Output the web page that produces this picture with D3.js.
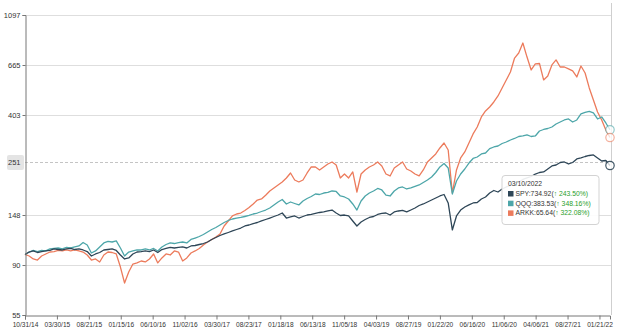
<!DOCTYPE html>
<html>
<head>
<meta charset="utf-8">
<script src="https://cdn.jsdelivr.net/npm/d3@7"></script>
<style>
  html, body { margin: 0; padding: 0; background: #fff; }
  svg { display: block; font-family: "Liberation Sans", Arial, Helvetica, sans-serif; }
</style>
</head>
<body>
<svg id="chart" width="630" height="331"></svg>
<script>
// Growth of 100 invested on 10/31/14, sampled every 13 trading sessions through 03/10/2022
const sessionStep = 13;

const spy = [100.0,102.5,103.6,102.0,103.0,103.6,104.1,105.7,105.1,104.6,
105.7,106.2,105.1,105.7,104.6,103.0,98.5,100.5,102.0,104.6,
105.1,105.7,104.1,99.5,95.6,96.6,100.5,102.5,103.0,103.6,
103.0,104.6,102.0,105.1,106.2,107.3,106.7,107.3,107.8,106.7,
108.9,109.4,110.5,111.6,113.3,116.2,118.5,120.9,122.8,124.6,
126.5,128.4,130.3,133.0,134.3,136.3,137.7,139.8,141.9,144.0,
146.2,148.4,151.4,144.0,145.5,147.0,144.0,146.2,148.4,149.2,
150.7,152.2,153.0,154.5,156.0,151.4,147.7,148.4,147.0,139.8,
133.0,138.4,141.9,144.8,146.2,149.2,150.7,151.4,148.4,153.0,
154.5,155.3,153.0,156.0,159.2,163.2,165.7,169.0,172.4,175.9,
179.5,182.2,167.4,127.8,147.0,156.0,160.8,164.1,167.4,168.2,
174.2,177.7,184.9,189.6,186.8,192.5,196.4,199.4,204.4,206.5,
211.7,214.9,218.1,223.6,227.0,228.2,235.1,242.3,244.7,250.9,
252.2,247.2,250.9,259.9,262.5,266.4,269.1,270.5,262.5,254.7,
256.0,243.50];

const qqq = [100.0,102.5,104.1,103.0,104.1,103.6,105.7,106.2,106.7,105.7,
107.3,106.7,107.8,108.9,112.7,110.0,101.5,103.6,107.8,112.2,
113.9,113.3,114.5,106.7,98.5,102.5,103.6,104.6,104.6,105.7,
104.6,106.2,103.6,107.8,110.5,112.2,111.6,112.7,113.3,112.2,
116.2,117.9,119.7,122.1,125.2,128.4,131.0,134.3,137.7,140.5,
142.6,144.0,144.8,146.2,147.7,149.9,151.4,153.7,156.0,159.2,
164.1,169.0,173.3,165.7,169.0,166.5,164.1,170.7,175.1,178.6,
183.1,182.2,184.9,185.9,188.7,187.8,179.5,177.7,174.2,165.7,
156.0,170.7,179.5,184.9,188.7,193.5,190.6,180.9,179.5,188.7,
194.5,196.4,192.5,194.5,197.4,200.4,205.4,210.6,217.1,227.0,
239.9,248.4,237.5,183.1,208.6,223.6,235.1,249.6,261.2,265.1,
273.2,275.9,288.2,293.0,295.9,303.4,308.0,314.2,319.0,325.4,
327.1,330.4,325.4,327.1,343.8,349.0,352.5,357.8,368.8,376.2,
383.8,387.7,376.2,383.8,407.6,413.8,417.9,411.7,387.7,395.5,
372.5,348.16];

const arkk = [100.0,98.5,95.6,94.6,98.5,100.5,102.5,103.0,104.1,103.6,
104.6,103.6,104.6,103.6,102.5,99.5,94.6,95.6,92.8,99.5,
102.5,102.0,100.5,88.2,75.2,83.9,90.9,91.9,93.7,92.8,
95.6,100.5,91.9,96.6,100.5,99.5,103.6,102.5,93.7,96.6,
101.5,103.6,106.2,110.0,113.3,116.2,119.1,122.8,133.0,139.8,
147.0,149.9,151.4,155.3,160.0,165.7,172.4,174.2,180.9,188.7,
194.5,200.4,206.5,214.9,225.9,210.6,206.5,210.6,225.9,239.9,
239.9,232.8,239.9,247.2,252.2,244.7,214.9,223.6,214.9,228.2,
186.8,223.6,232.8,239.9,244.7,252.2,242.3,223.6,219.3,237.5,
244.7,252.2,235.1,230.5,223.6,219.3,232.8,252.2,262.5,273.2,
290.1,305.0,284.3,184.9,232.8,262.5,278.7,305.0,333.9,357.8,
395.5,420.0,437.1,459.5,487.9,528.8,572.8,620.4,713.0,749.9,
828.8,720.1,632.9,672.1,675.3,572.8,596.2,665.4,699.7,652.0,
652.0,639.3,626.7,590.2,658.6,614.2,528.8,468.9,415.9,383.8,
346.9,322.08];

const seriesNames = ["SPY", "QQQ", "ARKK"];
const seriesColors = ["#2e4657", "#4da6a9", "#ec7b5c"];
const lastPrices = [734.92, 383.53, 65.64];
const hoverDate = "03/10/2022";
const crosshairValue = 251;

// axis ticks: y at e^4 ... e^7 (half steps), x every 100 sessions
const yTicks = [54.6, 90.0, 148.4, 403.4, 665.1, 1096.6];
const xTickSessions = d3.range(0, 1801, 100);
const xTickLabels = ["10/31/14","03/30/15","08/21/15","01/15/16","06/10/16","11/02/16",
  "03/30/17","08/23/17","01/18/18","06/13/18","11/05/18","04/03/19","08/27/19",
  "01/22/20","06/16/20","11/06/20","04/06/21","08/27/21","01/21/22"];

const allSeries = [spy, qqq, arkk];
const lastSession = (spy.length - 1) * sessionStep;

const svg = d3.select("#chart");
const plotLeft = 25, plotRight = 610, plotTop = 15, plotBottom = 315;

const x = d3.scaleLinear().domain([0, lastSession]).range([plotLeft, plotRight]);
const y = d3.scaleLog().domain([yTicks[0], yTicks[yTicks.length - 1]]).range([plotBottom, plotTop]);

// horizontal grid
svg.append("g").selectAll("line").data(yTicks.slice(1)).join("line")
  .attr("x1", plotLeft).attr("x2", plotRight + 1)
  .attr("y1", d => Math.round(y(d)) + 0.5).attr("y2", d => Math.round(y(d)) + 0.5)
  .attr("stroke", "#dedede").attr("stroke-width", 1);

// crosshair
const cy = Math.round(y(crosshairValue)) + 0.5;
svg.append("line").attr("x1", plotLeft).attr("x2", plotRight + 1).attr("y1", cy).attr("y2", cy)
  .attr("stroke", "#c4c4c4").attr("stroke-dasharray", "3,2");
svg.append("line").attr("x1", plotRight + 1.5).attr("x2", plotRight + 1.5).attr("y1", plotTop - 12).attr("y2", plotBottom)
  .attr("stroke", "#cfcfcf");

// series lines
const line = d3.line()
  .x((d, i) => x(i * sessionStep))
  .y(d => y(d));

[2, 1, 0].forEach(k => {
  svg.append("path")
    .datum(allSeries[k])
    .attr("fill", "none")
    .attr("stroke", seriesColors[k])
    .attr("stroke-width", 1.3)
    .attr("stroke-linejoin", "round")
    .attr("d", line);
});

// axes
const yAxis = svg.append("g").attr("transform", `translate(${plotLeft + 0.5},0)`)
  .call(d3.axisLeft(y).tickValues(yTicks).tickFormat(d3.format(".0f")).tickSize(3).tickPadding(2));
const xAxis = svg.append("g").attr("transform", `translate(0,${plotBottom + 0.5})`)
  .call(d3.axisBottom(x).tickValues(xTickSessions).tickFormat((d, i) => xTickLabels[i]).tickSize(4).tickPadding(3));
[yAxis, xAxis].forEach(g => {
  g.select(".domain").attr("stroke", "#777");
  g.selectAll(".tick line").attr("stroke", "#777");
  g.selectAll("text").attr("fill", "#333").style("font-family", "\"Liberation Sans\", Arial, sans-serif");
});
yAxis.selectAll("text").style("font-size", "7.5px");
xAxis.selectAll("text").style("font-size", "6.6px");

// crosshair value badge on the y axis
const badge = svg.append("g");
badge.append("rect").attr("x", 7).attr("y", cy - 7.5).attr("width", 17).attr("height", 15)
  .attr("rx", 2).attr("fill", "#e4e4e4");
badge.append("text").attr("x", 20.5).attr("y", cy).attr("dy", "0.35em")
  .attr("text-anchor", "end").attr("fill", "#333").style("font-size", "7.5px")
  .text(d3.format(".0f")(crosshairValue));

// hover circles at the last session
allSeries.forEach((s, k) => {
  svg.append("circle")
    .attr("cx", x(lastSession)).attr("cy", y(s[s.length - 1])).attr("r", 4.2)
    .attr("fill", "rgba(255,255,255,0.75)")
    .attr("stroke", seriesColors[k]).attr("stroke-opacity", k === 0 ? 0.9 : 0.6).attr("stroke-width", 1.2);
});

// tooltip
const tip = svg.append("g").attr("transform", "translate(502,175.5)");
tip.append("rect").attr("width", 97).attr("height", 49).attr("rx", 3)
  .attr("fill", "rgba(255,255,255,0.9)").attr("stroke", "#d3d3d3");
tip.append("text").attr("x", 6).attr("y", 10.5).attr("fill", "#333")
  .style("font-size", "6.8px").text(hoverDate);
seriesNames.forEach((name, k) => {
  const ry = 18 + k * 9.7;
  tip.append("rect").attr("x", 6).attr("y", ry - 2.5).attr("width", 5.5).attr("height", 5.5)
    .attr("fill", seriesColors[k]);
  const s = allSeries[k];
  const t = tip.append("text").attr("x", 13.5).attr("y", ry).attr("dy", "0.35em")
    .style("font-size", "6.8px");
  t.append("tspan").attr("fill", "#333").text(`${name}:${lastPrices[k].toFixed(2)}(`);
  t.append("tspan").attr("fill", "#2aa02a").attr("font-weight", "bold").text("\u2191");
  t.append("tspan").attr("fill", "#2aa02a").text(` ${s[s.length - 1].toFixed(2)}%)`);
});
</script>
</body>
</html>
